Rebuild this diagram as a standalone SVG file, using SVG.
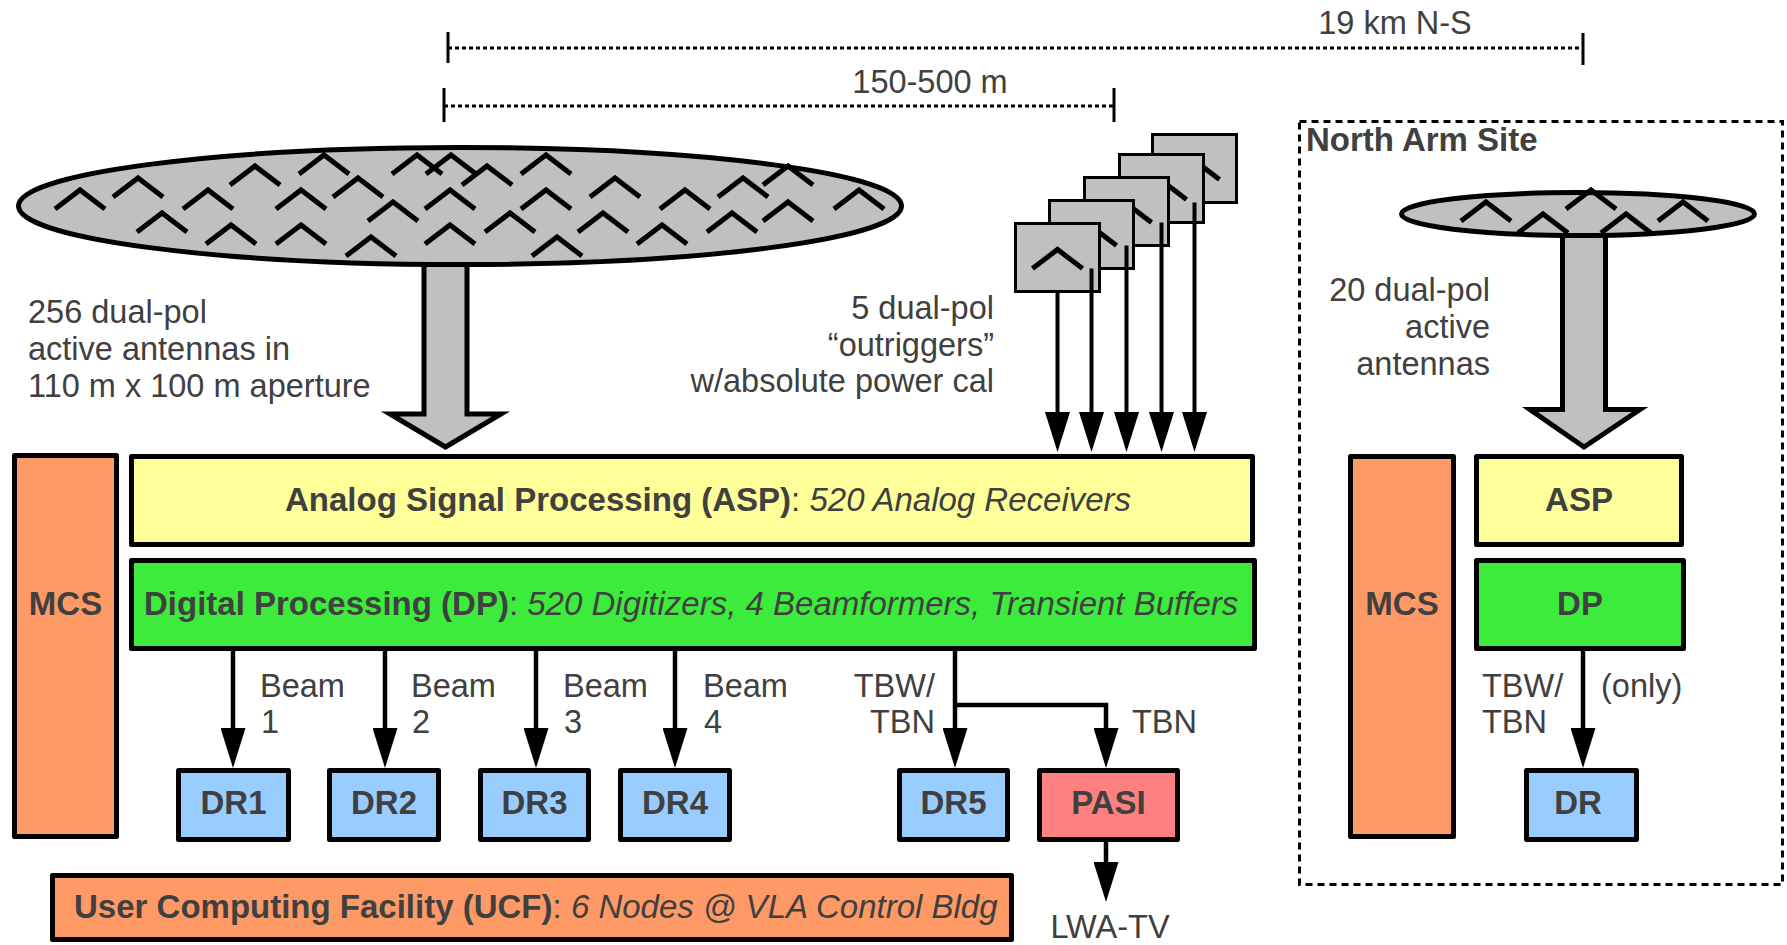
<svg xmlns="http://www.w3.org/2000/svg" width="1787" height="945" viewBox="0 0 1787 945">
<defs>
<style>
.t{font-family:"Liberation Sans",Arial,sans-serif;font-size:32.5px;fill:#404040}
.b{font-family:"Liberation Sans",Arial,sans-serif;font-size:33px;font-weight:bold;fill:#404040}
.bx{stroke:#000;stroke-width:5;stroke-linejoin:round}
.gray{fill:#c0c0c0;stroke:#000;stroke-width:5}
.ch{fill:none;stroke:#000;stroke-width:5}
.ln{fill:none;stroke:#000;stroke-width:4.5}
.dot{fill:none;stroke:#000;stroke-width:3;stroke-dasharray:4 3}
.tick{stroke:#000;stroke-width:3}
</style>
<marker id="arr" viewBox="0 0 40 25" markerWidth="40" markerHeight="25" refX="30" refY="12.5" orient="auto" markerUnits="userSpaceOnUse">
<path d="M0,0 L40,12.5 L0,25 Z" fill="#000"/>
</marker>
<path id="chev" d="M-25,19 L0,0 L25,19"/>
</defs>
<rect width="1787" height="945" fill="#fff"/>

<g id="dimensions">
<line class="dot" x1="448" y1="48" x2="1583" y2="48"/>
<line class="tick" x1="448" y1="32" x2="448" y2="63"/>
<line class="tick" x1="1583" y1="33" x2="1583" y2="65"/>
<text class="t" x="1395" y="34" text-anchor="middle">19 km N-S</text>
<line class="dot" x1="444" y1="106" x2="1114" y2="106"/>
<line class="tick" x1="444" y1="88" x2="444" y2="122"/>
<line class="tick" x1="1114" y1="88" x2="1114" y2="122"/>
<text class="t" x="930" y="93" text-anchor="middle">150-500 m</text>
</g>

<g id="main-array">
<path class="gray" d="M424,240 L424,414 L390,414 L445.5,447 L501,414 L467,414 L467,240 Z"/>
<ellipse class="gray" cx="460" cy="206" rx="441.5" ry="58.5"/>
<g class="ch">
<use href="#chev" x="80" y="190"/><use href="#chev" x="138" y="178"/><use href="#chev" x="208" y="190"/>
<use href="#chev" x="255" y="166"/><use href="#chev" x="324" y="155"/><use href="#chev" x="417" y="155"/>
<use href="#chev" x="451" y="155"/><use href="#chev" x="358" y="178"/><use href="#chev" x="301" y="190"/>
<use href="#chev" x="162" y="213"/><use href="#chev" x="231" y="225"/><use href="#chev" x="301" y="225"/>
<use href="#chev" x="393" y="202"/><use href="#chev" x="371" y="237"/><use href="#chev" x="450" y="190"/>
<use href="#chev" x="450" y="225"/><use href="#chev" x="487" y="166"/><use href="#chev" x="546" y="155"/>
<use href="#chev" x="546" y="190"/><use href="#chev" x="510" y="213"/><use href="#chev" x="557" y="237"/>
<use href="#chev" x="615" y="178"/><use href="#chev" x="603" y="213"/><use href="#chev" x="685" y="190"/>
<use href="#chev" x="662" y="225"/><use href="#chev" x="743" y="178"/><use href="#chev" x="732" y="213"/>
<use href="#chev" x="788" y="166"/><use href="#chev" x="788" y="202"/><use href="#chev" x="859" y="190"/>
</g>
<text class="t" x="28" y="323">256 dual-pol</text>
<text class="t" x="28" y="360">active antennas in</text>
<text class="t" x="28" y="397">110 m x 100 m aperture</text>
</g>

<g id="outriggers">
<rect class="gray" style="stroke-width:3" x="1152.5" y="134.5" width="84" height="68"/>
<use class="ch" href="#chev" x="1194.5" y="160.5"/>
<rect class="gray" style="stroke-width:3" x="1119.5" y="154.5" width="84" height="68"/>
<use class="ch" href="#chev" x="1161.5" y="180.5"/>
<rect class="gray" style="stroke-width:3" x="1084.5" y="177.5" width="84" height="68"/>
<use class="ch" href="#chev" x="1126.5" y="203.5"/>
<rect class="gray" style="stroke-width:3" x="1049.5" y="200.5" width="84" height="68"/>
<use class="ch" href="#chev" x="1091.5" y="226.5"/>
<rect class="gray" style="stroke-width:3" x="1015.5" y="223.5" width="84" height="68"/>
<use class="ch" href="#chev" x="1057.5" y="249.5"/>
<text class="t" x="994" y="319" text-anchor="end">5 dual-pol</text>
<text class="t" x="994" y="356" text-anchor="end">“outriggers”</text>
<text class="t" x="994" y="392" text-anchor="end">w/absolute power cal</text>
</g>

<g id="MCS"><rect class="bx" fill="#ff9966" x="14.5" y="455.5" width="102" height="381"/>
<text class="b" x="65.5" y="615" text-anchor="middle">MCS</text></g>
<g id="ASP"><rect class="bx" fill="#ffff99" x="131.5" y="456.5" width="1121" height="88"/>
<text class="b" x="285" y="511">Analog Signal Processing (ASP)<tspan font-weight="normal">: </tspan><tspan font-weight="normal" font-style="italic">520 Analog Receivers</tspan></text></g>
<g id="DP"><rect class="bx" fill="#3deb3d" x="131.5" y="560.5" width="1123" height="88"/>
<text class="b" x="144" y="615">Digital Processing (DP)<tspan font-weight="normal">: </tspan><tspan font-weight="normal" font-style="italic">520 Digitizers, 4 Beamformers, Transient Buffers</tspan></text></g>

<g id="DR1"><rect class="bx" fill="#99ccff" x="178.5" y="770.5" width="110" height="69"/><text class="b" x="233.5" y="814" text-anchor="middle">DR1</text></g>
<g id="DR2"><rect class="bx" fill="#99ccff" x="329.5" y="770.5" width="109" height="69"/><text class="b" x="384" y="814" text-anchor="middle">DR2</text></g>
<g id="DR3"><rect class="bx" fill="#99ccff" x="480.5" y="770.5" width="108" height="69"/><text class="b" x="534.5" y="814" text-anchor="middle">DR3</text></g>
<g id="DR4"><rect class="bx" fill="#99ccff" x="620.5" y="770.5" width="109" height="69"/><text class="b" x="675" y="814" text-anchor="middle">DR4</text></g>
<g id="DR5"><rect class="bx" fill="#99ccff" x="899.5" y="770.5" width="108" height="69"/><text class="b" x="953.5" y="814" text-anchor="middle">DR5</text></g>
<g id="PASI"><rect class="bx" fill="#ff8080" x="1039.5" y="770.5" width="138" height="69"/><text class="b" x="1108.5" y="814" text-anchor="middle">PASI</text></g>
<g id="UCF"><rect class="bx" fill="#ff9966" x="52.5" y="875.5" width="959" height="64"/>
<text class="b" x="74" y="918">User Computing Facility (UCF)<tspan font-weight="normal">: </tspan><tspan font-weight="normal" font-style="italic">6 Nodes @ VLA Control Bldg</tspan></text></g>

<g id="north-arm">
<rect x="1299.5" y="121.5" width="483" height="763" fill="none" stroke="#000" stroke-width="3" stroke-dasharray="7 5"/>
<text class="b" x="1306" y="151">North Arm Site</text>
<path class="gray" d="M1562.5,225 L1562.5,409.5 L1530,409.5 L1584,447 L1640,409.5 L1605.5,409.5 L1605.5,225 Z"/>
<ellipse class="gray" cx="1578" cy="214" rx="176.5" ry="21.5"/>
<g class="ch">
<use href="#chev" x="1486" y="202"/><use href="#chev" x="1543" y="214"/><use href="#chev" x="1591" y="190"/>
<use href="#chev" x="1626" y="214"/><use href="#chev" x="1683" y="202"/>
</g>
<text class="t" x="1490" y="301" text-anchor="end">20 dual-pol</text>
<text class="t" x="1490" y="338" text-anchor="end">active</text>
<text class="t" x="1490" y="375" text-anchor="end">antennas</text>
</g>
<g id="MCS-north"><rect class="bx" fill="#ff9966" x="1350.5" y="456.5" width="103" height="380"/>
<text class="b" x="1402" y="615" text-anchor="middle">MCS</text></g>
<g id="ASP-north"><rect class="bx" fill="#ffff99" x="1476.5" y="456.5" width="205" height="88"/>
<text class="b" x="1579" y="511" text-anchor="middle">ASP</text></g>
<g id="DP-north"><rect class="bx" fill="#3deb3d" x="1476.5" y="560.5" width="207" height="88"/>
<text class="b" x="1580" y="615" text-anchor="middle">DP</text></g>
<g id="DR-north"><rect class="bx" fill="#99ccff" x="1526.5" y="770.5" width="110" height="69"/>
<text class="b" x="1578" y="814" text-anchor="middle">DR</text></g>

<g id="connectors">
<line class="ln" style="stroke-width:4" x1="1057.5" y1="291.5" x2="1057.5" y2="442" marker-end="url(#arr)"/>
<line class="ln" style="stroke-width:4" x1="1091.5" y1="268.5" x2="1091.5" y2="442" marker-end="url(#arr)"/>
<line class="ln" style="stroke-width:4" x1="1126.5" y1="245.5" x2="1126.5" y2="442" marker-end="url(#arr)"/>
<line class="ln" style="stroke-width:4" x1="1161.5" y1="222.5" x2="1161.5" y2="442" marker-end="url(#arr)"/>
<line class="ln" style="stroke-width:4" x1="1194.5" y1="202.5" x2="1194.5" y2="442" marker-end="url(#arr)"/>
<line class="ln" x1="233" y1="651" x2="233" y2="758" marker-end="url(#arr)"/>
<line class="ln" x1="385" y1="651" x2="385" y2="758" marker-end="url(#arr)"/>
<line class="ln" x1="536" y1="651" x2="536" y2="758" marker-end="url(#arr)"/>
<line class="ln" x1="675" y1="651" x2="675" y2="758" marker-end="url(#arr)"/>
<line class="ln" x1="955" y1="651" x2="955" y2="758" marker-end="url(#arr)"/>
<path class="ln" d="M955,705 L1106,705 L1106,758" marker-end="url(#arr)"/>
<line class="ln" x1="1106" y1="842" x2="1106" y2="892" marker-end="url(#arr)"/>
<line class="ln" x1="1583" y1="651" x2="1583" y2="758" marker-end="url(#arr)"/>
<text class="t" x="260" y="697">Beam</text><text class="t" x="261" y="733">1</text>
<text class="t" x="411" y="697">Beam</text><text class="t" x="412" y="733">2</text>
<text class="t" x="563" y="697">Beam</text><text class="t" x="564" y="733">3</text>
<text class="t" x="703" y="697">Beam</text><text class="t" x="704" y="733">4</text>
<text class="t" x="935" y="697" text-anchor="end">TBW/</text>
<text class="t" x="935" y="733" text-anchor="end">TBN</text>
<text class="t" x="1132" y="733">TBN</text>
<text class="t" x="1110" y="938" text-anchor="middle">LWA-TV</text>
<text class="t" x="1482" y="697">TBW/</text>
<text class="t" x="1482" y="733">TBN</text>
<text class="t" x="1601" y="697">(only)</text>
</g>
</svg>
